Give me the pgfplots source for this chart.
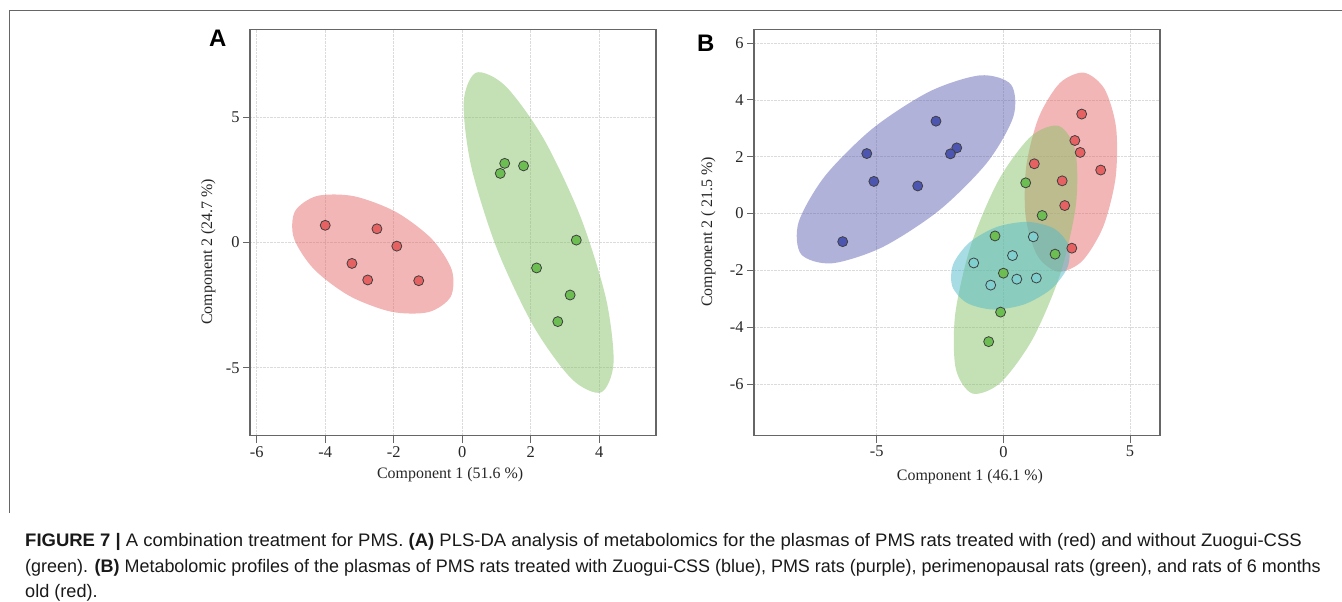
\documentclass[border=0pt]{standalone}
\usepackage{fontspec}
\setmainfont{Liberation Serif}
\newfontfamily\capfont{Liberation Sans}
\usepackage{graphicx}
\usepackage{pgfplots}
\pgfplotsset{compat=1.18}

% group colours: point fills and (translucent) ellipse fills
\definecolor{ptred}{RGB}{230,98,98}
\definecolor{ptgreen}{RGB}{108,190,82}
\definecolor{ptblue}{RGB}{76,86,176}
\definecolor{ptcyan}{RGB}{128,208,208}
\definecolor{elred}{RGB}{229,109,109}
\definecolor{elgreen}{RGB}{135,195,105}
\definecolor{elblue}{RGB}{97,101,181}
\definecolor{elcyan}{RGB}{81,185,201}

\pgfplotsset{
  pca/.style={
    scale only axis, width=406bp, height=406bp, anchor=south west,
    axis line style={draw=black!60, line width=1.1bp},
    tick align=outside, tick pos=left, major tick length=7bp,
    tick style={draw=black!60, line width=0.9bp},
    grid=major, grid style={densely dotted, draw=black!14, line width=0.7bp},
    /pgf/number format/assume math mode=true,
    ticklabel style={font=\fontsize{16.5}{16.5}\selectfont, text=black!85},
    label style={font=\fontsize{16}{16}\selectfont, text=black!85},
    clip=true,
  },
  ell/.style={draw=none, fill=#1, fill opacity=0.5, smooth cycle, forget plot},
  pts/.style={only marks, mark=*, mark size=5bp,
    mark options={draw=black!75, line width=0.8bp, fill=#1}},
}

\begin{document}
\begin{tikzpicture}
\useasboundingbox (0,0) rectangle (1342bp,602bp);

% figure frame
\draw[black!60, line width=1.3bp] (9.3bp,89bp) -- (9.3bp,591.7bp) -- (1342bp,591.7bp);

% ---------------- panel A ----------------
\begin{axis}[pca,
  at={(250bp,166.3bp)},
  xmin=-6.196, xmax=5.657, ymin=-7.71, ymax=8.48,
  xtick={-6,-4,-2,0,2,4}, ytick={-5,0,5},
  xlabel={Component 1 (51.6 \%)}, ylabel={Component 2 (24.7 \%)},
  xlabel style={at={(rel axis cs:0.493,-0.0967)}, anchor=center},
  ylabel style={at={(rel axis cs:-0.1027,0.453)}, anchor=center},
]
\addplot[ell=elred] coordinates {
  (-0.337,-2.169) (-0.304,-1.101) (-0.888,0.135) (-1.934,1.212)
  (-3.161,1.840) (-4.240,1.850) (-4.883,1.239) (-4.916,0.171)
  (-4.332,-1.065) (-3.286,-2.142) (-2.059,-2.770) (-0.980,-2.780)};
\addplot[ell=elgreen] coordinates {
  (4.053,-5.983) (4.417,-4.805) (4.196,-2.233) (3.447,1.040)
  (2.373,4.141) (1.260,6.237) (0.407,6.767) (0.043,5.589)
  (0.264,3.017) (1.013,-0.256) (2.087,-3.357) (3.200,-5.453)};
\addplot[pts=ptred] coordinates {
  (-4.00,0.68) (-2.49,0.54) (-1.91,-0.15) (-3.22,-0.84) (-2.76,-1.50) (-1.27,-1.53)};
\addplot[pts=ptgreen] coordinates {
  (1.24,3.15) (1.11,2.75) (1.79,3.05) (3.33,0.09) (2.17,-1.02) (3.15,-2.10) (2.79,-3.16)};
\end{axis}

% ---------------- panel B ----------------
\begin{axis}[pca,
  at={(754bp,166.3bp)},
  xmin=-9.84, xmax=6.18, ymin=-7.82, ymax=6.47,
  xtick={-5,0,5}, ytick={-6,-4,-2,0,2,4,6},
  xlabel={Component 1 (46.1 \%)}, ylabel={Component 2 ( 21.5 \%)},
  xlabel style={at={(rel axis cs:0.532,-0.1009)}, anchor=center},
  ylabel style={at={(rel axis cs:-0.1126,0.502)}, anchor=center},
]
\addplot[ell=elblue] coordinates {
  (0.299,4.541) (-0.910,4.863) (-2.904,4.298) (-5.150,2.999)
  (-7.046,1.312) (-8.081,-0.309) (-7.983,-1.431) (-6.774,-1.753)
  (-4.780,-1.188) (-2.534,0.111) (-0.638,1.798) (0.397,3.419)};
\addplot[pts=ptblue] coordinates {
  (-2.66,3.25) (-5.39,2.11) (-1.84,2.31) (-2.09,2.10) (-5.11,1.13) (-3.38,0.97) (-6.34,-0.99)};
\addplot[ell=elred] coordinates {
  (3.178,4.957) (2.227,4.591) (1.394,3.385) (0.902,1.660)
  (0.881,-0.118) (1.338,-1.475) (2.150,-2.047) (3.101,-1.681)
  (3.934,-0.475) (4.426,1.250) (4.447,3.028) (3.990,4.385)};
\addplot[pts=ptred] coordinates {
  (3.09,3.50) (2.82,2.57) (3.03,2.15) (3.84,1.53) (1.22,1.75) (2.32,1.15) (2.42,0.28) (2.70,-1.22)};
\addplot[ell=elgreen] coordinates {
  (2.188,3.082) (1.077,2.706) (-0.192,1.169) (-1.282,-1.118)
  (-1.900,-3.540) (-1.881,-5.449) (-1.228,-6.334) (-0.117,-5.958)
  (1.152,-4.421) (2.242,-2.134) (2.860,0.288) (2.841,2.197)};
\addplot[pts=ptgreen] coordinates {
  (0.88,1.08) (1.53,-0.07) (-0.33,-0.79) (2.04,-1.43) (0.00,-2.10) (-0.11,-3.47) (-0.58,-4.51)};
\addplot[ell=elcyan] coordinates {
  (2.568,-1.110) (1.990,-0.527) (0.952,-0.294) (-0.266,-0.475)
  (-1.340,-1.021) (-1.981,-1.785) (-2.016,-2.564) (-1.438,-3.147)
  (-0.400,-3.380) (0.818,-3.199) (1.892,-2.653) (2.533,-1.889)};
\addplot[pts=ptcyan] coordinates {
  (1.18,-0.82) (0.36,-1.48) (-1.17,-1.74) (0.53,-2.31) (1.30,-2.27) (-0.50,-2.52)};
\end{axis}

% panel letters
\node[anchor=base west, inner sep=0] at (209bp,555.3bp)
  {\capfont\bfseries\fontsize{24}{24}\selectfont A};
\node[anchor=base west, inner sep=0] at (697bp,550bp)
  {\capfont\bfseries\fontsize{24}{24}\selectfont B};

% caption
\begin{scope}[every node/.style={anchor=base west, inner sep=0,
    font=\capfont\fontsize{18.2}{18.2}\selectfont, text=black!90}]
\node at (25bp,55bp) {\scalebox{1.02}[1]{\textbf{FIGURE 7} \textbf{|} A combination treatment for PMS. \textbf{(A)} PLS-DA analysis of metabolomics for the plasmas of PMS rats treated with (red) and without Zuogui-CSS}};
\node at (25bp,29.5bp) {\scalebox{0.99}[1]{(green). \textbf{(B)} Metabolomic profiles of the plasmas of PMS rats treated with Zuogui-CSS (blue), PMS rats (purple), perimenopausal rats (green), and rats of 6 months}};
\node at (25bp,5bp) {old (red).};
\end{scope}
\end{tikzpicture}
\end{document}
